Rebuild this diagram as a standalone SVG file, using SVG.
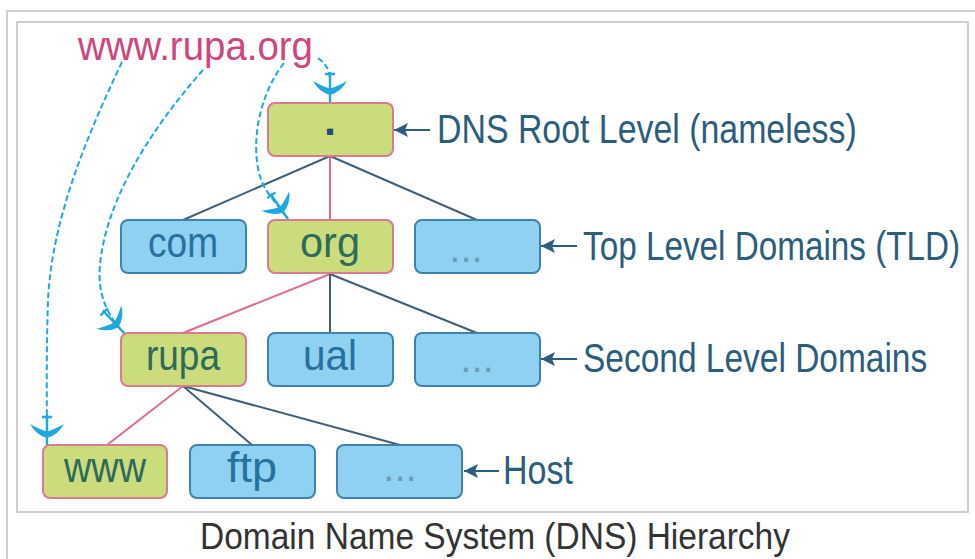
<svg xmlns="http://www.w3.org/2000/svg" width="975" height="559" viewBox="0 0 975 559">
<style>
.frame{fill:none;stroke:#cfcfcf;stroke-width:2}
.g rect{fill:#cbdc7c;stroke:#d97a8e;stroke-width:2}
.b rect{fill:#8fd1f0;stroke:#3f83ab;stroke-width:2}
.nt{font-family:"Liberation Sans",Arial,sans-serif;font-size:43px;text-anchor:middle}
.g .nt{fill:#2f6a5b}
.b .nt{fill:#27719f}
.dots{font-family:"Liberation Sans",Arial,sans-serif;font-size:40px;text-anchor:middle;fill:#6a9cbc}
.lbl{font-family:"Liberation Sans",Arial,sans-serif;font-size:40px;fill:#2b5d7c}
.dk{stroke:#3f5f78;stroke-width:2;fill:none}
.pk{stroke:#de6a92;stroke-width:2;fill:none}
.cy{stroke:#1ea8dd;stroke-width:2;fill:none;stroke-dasharray:6 3}
.la{stroke:#2b5d7c;stroke-width:2;fill:none}
</style>
<defs>
<marker id="feather" markerUnits="userSpaceOnUse" markerWidth="44" markerHeight="44" viewBox="-30 -22 44 44" refX="8" refY="0" orient="auto" overflow="visible">
<path d="M0,0 Q-3,-11 -14,-17 Q-9,-8 -7,-2 L-7,2 Q-9,8 -14,17 Q-3,11 0,0 Z" fill="#1ea8dd"/>
<path d="M-21,-5 L-21,5 M-23,0 L8,0" stroke="#1ea8dd" stroke-width="2.4"/>
</marker>
<marker id="la" markerUnits="userSpaceOnUse" markerWidth="16" markerHeight="16" viewBox="-16 -8 16 16" refX="0" refY="0" orient="auto">
<path d="M0,0 L-14,-7 L-11,0 L-14,7 Z" fill="#2b5d7c"/>
</marker>
</defs>
<rect x="7" y="11" width="980" height="560" class="frame"/>
<rect x="17" y="22" width="951" height="490" class="frame"/>
<g id="connectors">
<line class="dk" x1="330" y1="156" x2="183" y2="220"/>
<line class="pk" x1="330" y1="156" x2="330" y2="220"/>
<line class="dk" x1="330" y1="156" x2="477" y2="220"/>
<line class="pk" x1="330" y1="274" x2="183" y2="333"/>
<line class="dk" x1="330" y1="274" x2="330" y2="333"/>
<line class="dk" x1="330" y1="274" x2="477" y2="333"/>
<line class="pk" x1="183" y1="386" x2="107" y2="445"/>
<line class="dk" x1="183" y1="386" x2="252" y2="445"/>
<line class="dk" x1="183" y1="386" x2="400" y2="445"/>
<path class="cy" d="M318,58 C326,64 330,70 330,80 L330,103" marker-end="url(#feather)"/>
<path class="cy" d="M284,63 C255,100 248,160 266,190 C274,202 281,209 288,219" marker-end="url(#feather)"/>
<path class="cy" d="M203,70 C150,130 106,200 100,265 C97,295 108,316 124,333" marker-end="url(#feather)"/>
<path class="cy" d="M122,62 C85,140 52,220 48,300 C46,360 47,410 47,446" marker-end="url(#feather)"/>
<line class="la" x1="430" y1="130" x2="394" y2="130" marker-end="url(#la)"/>
<line class="la" x1="577" y1="246" x2="541" y2="246" marker-end="url(#la)"/>
<line class="la" x1="577" y1="359" x2="541" y2="359" marker-end="url(#la)"/>
<line class="la" x1="499" y1="471" x2="464" y2="471" marker-end="url(#la)"/>
</g>
<text x="78" y="60" font-family="Liberation Sans,Arial,sans-serif" font-size="41" fill="#d0457e" textLength="235" lengthAdjust="spacingAndGlyphs">www.rupa.org</text>
<g id="root" class="g"><rect x="268" y="103" width="125" height="53" rx="7"/><text class="nt" x="330" y="135" font-weight="bold" font-size="60" style="fill:#1f4e79">.</text></g>
<g id="com" class="b"><rect x="121" y="220" width="125" height="53" rx="7"/><text class="nt" x="183" y="257" textLength="70" lengthAdjust="spacingAndGlyphs">com</text></g>
<g id="org" class="g"><rect x="268" y="220" width="125" height="53" rx="7"/><text class="nt" x="330" y="257" textLength="60" lengthAdjust="spacingAndGlyphs">org</text></g>
<g id="tld-more" class="b"><rect x="415" y="220" width="125" height="53" rx="7"/><text class="dots" x="466" y="262">...</text></g>
<g id="rupa" class="g"><rect x="121" y="333" width="125" height="53" rx="7"/><text class="nt" x="183" y="370" textLength="74" lengthAdjust="spacingAndGlyphs">rupa</text></g>
<g id="ual" class="b"><rect x="268" y="333" width="125" height="53" rx="7"/><text class="nt" x="330" y="370" textLength="54" lengthAdjust="spacingAndGlyphs">ual</text></g>
<g id="sld-more" class="b"><rect x="415" y="333" width="125" height="53" rx="7"/><text class="dots" x="477" y="372">...</text></g>
<g id="www" class="g"><rect x="43" y="445" width="124" height="53" rx="7"/><text class="nt" x="105" y="482" textLength="82" lengthAdjust="spacingAndGlyphs">www</text></g>
<g id="ftp" class="b"><rect x="190" y="445" width="125" height="53" rx="7"/><text class="nt" x="252" y="482" textLength="50" lengthAdjust="spacingAndGlyphs">ftp</text></g>
<g id="host-more" class="b"><rect x="337" y="445" width="125" height="53" rx="7"/><text class="dots" x="400" y="481">...</text></g>
<text class="lbl" transform="translate(437,143) scale(0.847,1)">DNS Root Level (nameless)</text>
<text class="lbl" transform="translate(583,260) scale(0.832,1)">Top Level Domains (TLD)</text>
<text class="lbl" transform="translate(583,372) scale(0.837,1)">Second Level Domains</text>
<text class="lbl" transform="translate(503,484) scale(0.85,1)">Host</text>
<text x="200" y="549" font-family="Liberation Sans,Arial,sans-serif" font-size="37" fill="#333333" textLength="590" lengthAdjust="spacingAndGlyphs">Domain Name System (DNS) Hierarchy</text>
</svg>
